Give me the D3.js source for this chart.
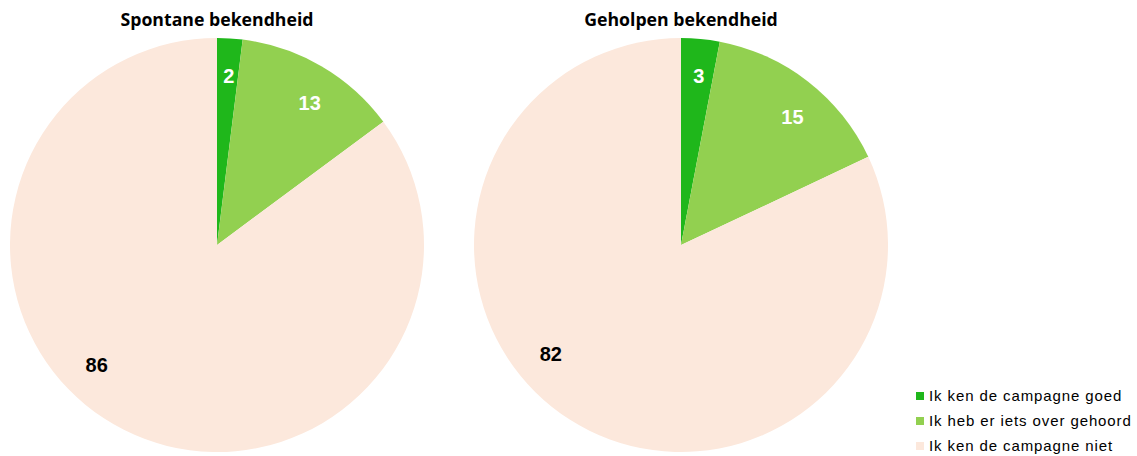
<!DOCTYPE html>
<html>
<head>
<meta charset="utf-8">
<script src="https://cdn.jsdelivr.net/npm/d3@7"></script>
<style>
  body { margin: 0; background: #fff; }
  svg { display: block; }
</style>
</head>
<body>
<svg id="chart" width="1137" height="456"></svg>
<script>
const categories = ['Ik ken de campagne goed', 'Ik heb er iets over gehoord', 'Ik ken de campagne niet'];
const titles = ['Spontane bekendheid', 'Geholpen bekendheid'];
const spontaan = [2, 13, 86];
const geholpen = [3, 15, 82];
const colors = ['#1fb71b', '#92d050', '#fce8dc'];
const labelColors = ['#fff', '#fff', '#000'];

const svg = d3.select('#chart');
const R = 207;
const centers = [{ x: 217, y: 245 }, { x: 681, y: 245 }];

const color = d3.scaleOrdinal().domain(categories).range(colors);
const pie = d3.pie().sort(null).value(d => d.v);
const arc = d3.arc().innerRadius(0).outerRadius(R);

[spontaan, geholpen].forEach((vals, i) => {
  const data = vals.map((v, j) => ({ v, cat: categories[j], j }));
  const g = svg.append('g').attr('transform', `translate(${centers[i].x},${centers[i].y})`);

  g.selectAll('path').data(pie(data)).join('path')
    .attr('d', arc)
    .attr('fill', d => color(d.data.cat));

  // label a bit past the middle of the slice, near the rim
  g.selectAll('text').data(pie(data)).join('text')
    .attr('transform', d => {
      const a = d.startAngle + (d.endAngle - d.startAngle) * 0.56;
      const r = R * 0.82;
      return `translate(${r * Math.sin(a)},${-r * Math.cos(a)})`;
    })
    .attr('text-anchor', 'middle')
    .attr('dy', '0.36em')
    .attr('font-family', 'Liberation Sans, Arial, sans-serif')
    .attr('font-weight', 'bold')
    .attr('font-size', 20)
    .attr('fill', d => labelColors[d.data.j])
    .text(d => d.data.v);

  svg.append('text')
    .attr('x', centers[i].x).attr('y', 26)
    .attr('text-anchor', 'middle')
    .attr('font-family', 'Open Sans, sans-serif')
    .attr('font-weight', 'bold')
    .attr('font-size', 17.7)
    .attr('fill', '#000')
    .text(titles[i]);
});

// legend
const legend = svg.append('g').attr('transform', 'translate(916,396)');
const item = legend.selectAll('g').data(categories).join('g')
  .attr('transform', (d, i) => `translate(0,${i * 25})`);
item.append('rect')
  .attr('x', 0).attr('y', -4).attr('width', 8).attr('height', 8)
  .attr('fill', d => color(d));
item.append('text')
  .attr('x', 13).attr('dy', '0.35em')
  .attr('font-family', 'Liberation Sans, Arial, sans-serif')
  .attr('font-size', 15)
  .attr('letter-spacing', 0.9)
  .attr('fill', '#000')
  .text(d => d);
</script>
</body>
</html>
